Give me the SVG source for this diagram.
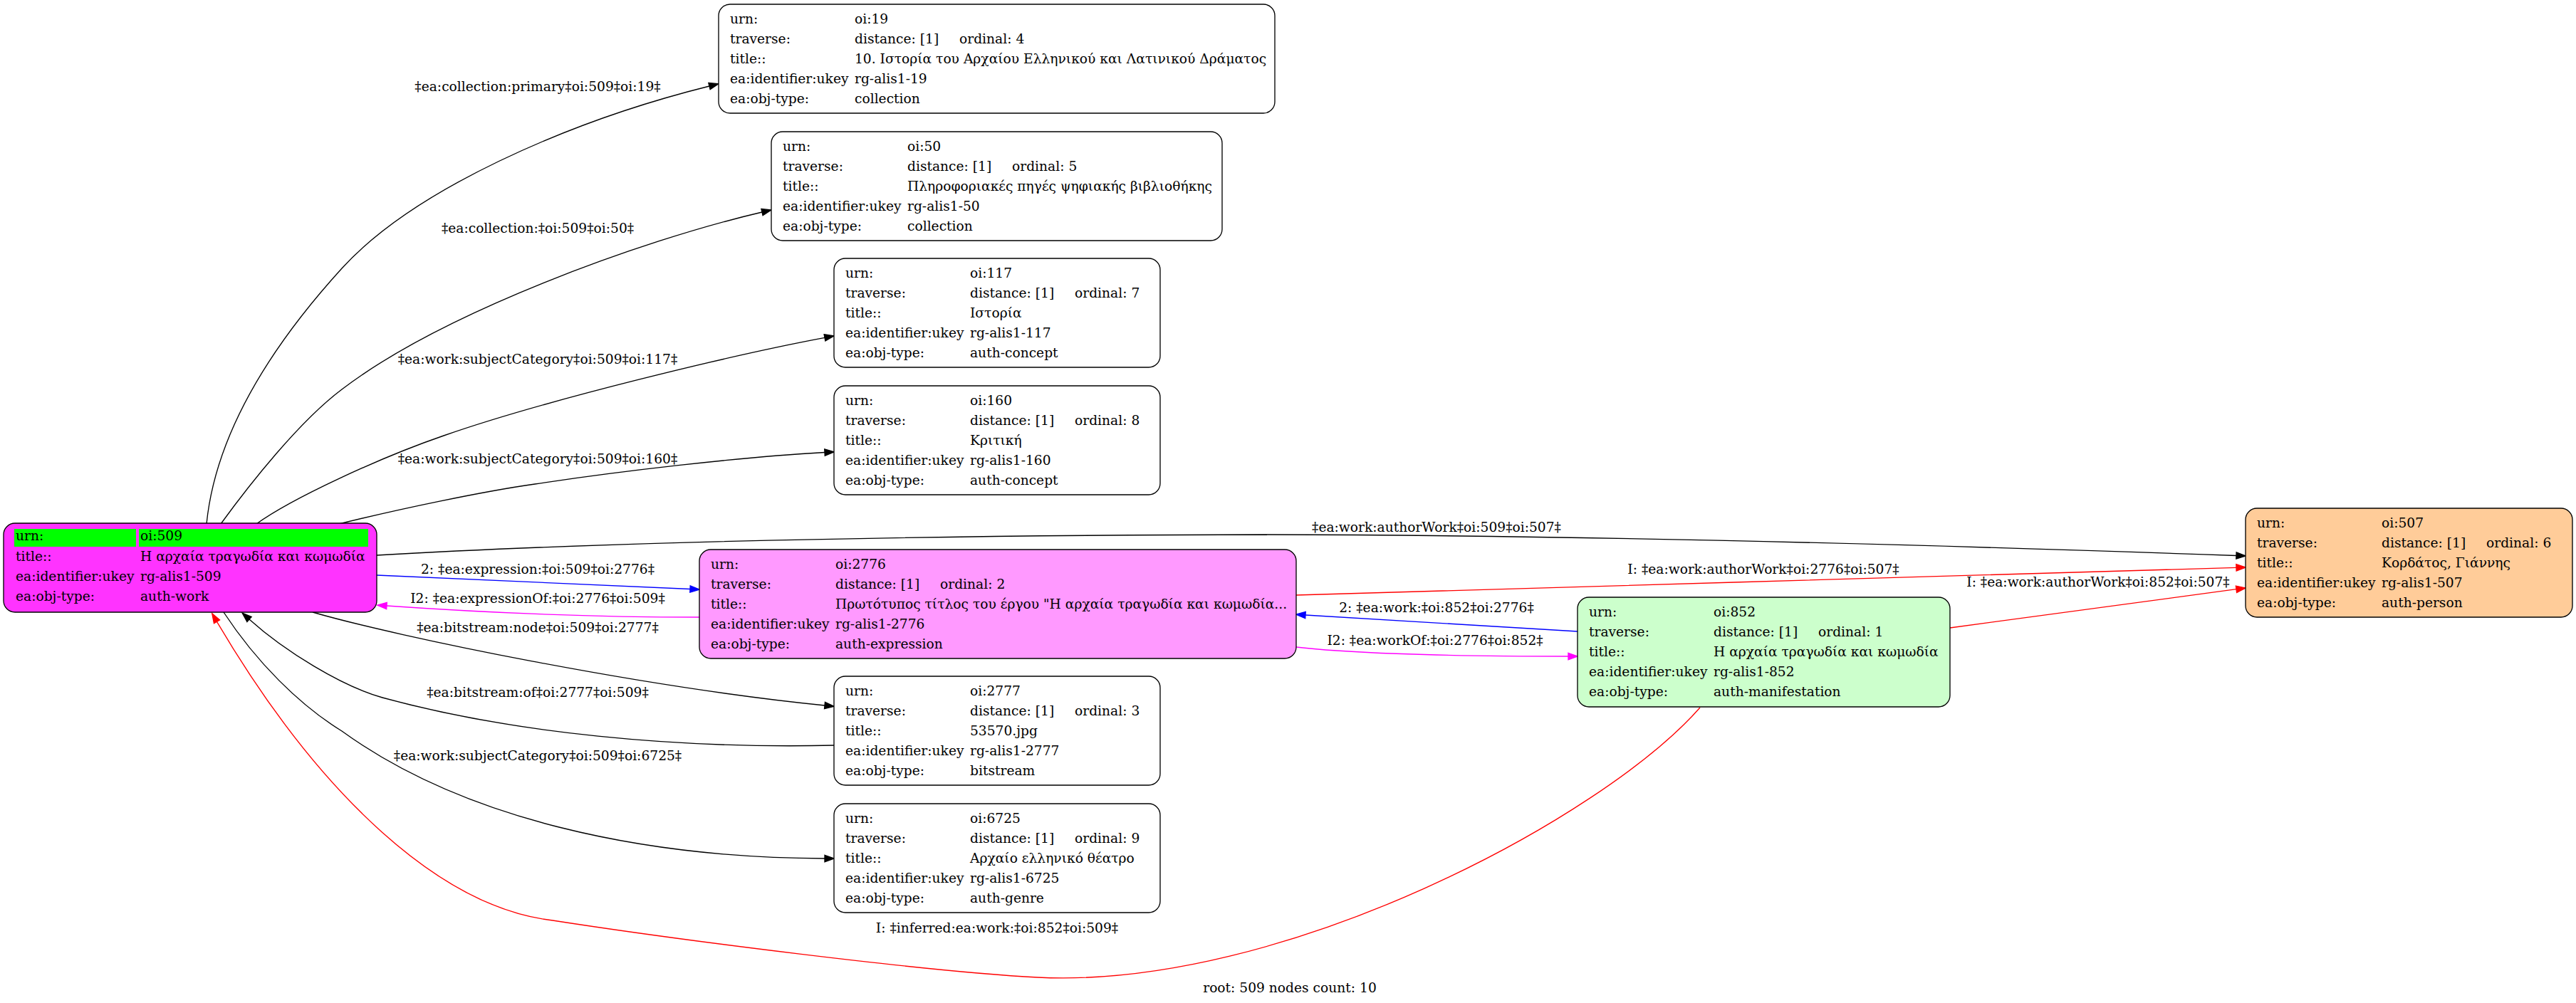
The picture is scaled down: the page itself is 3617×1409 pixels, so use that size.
<svg xmlns="http://www.w3.org/2000/svg" width="3617" height="1409" viewBox="0 0 3617 1409">
<style>
text{font-family:"DejaVu Serif","Liberation Serif",serif;font-size:18.67px;fill:#000}
.lbl{text-anchor:middle}
.box{stroke:#000;stroke-width:1.33}
.e{fill:none;stroke-width:1.33}
.k{stroke:#000}.b{stroke:#0000ff}.r{stroke:#ff0000}.m{stroke:#ff00ff}
</style>
<defs>
<marker id="ak" markerUnits="userSpaceOnUse" markerWidth="14" markerHeight="10" viewBox="0 0 14 10" refX="0" refY="4.7" orient="auto" overflow="visible"><path d="M0,0 L13.3,4.7 L0,9.4 z" fill="#000" stroke="#000" stroke-width="1.33"/></marker>
<marker id="ab" markerUnits="userSpaceOnUse" markerWidth="14" markerHeight="10" viewBox="0 0 14 10" refX="0" refY="4.7" orient="auto" overflow="visible"><path d="M0,0 L13.3,4.7 L0,9.4 z" fill="#0000ff" stroke="#0000ff" stroke-width="1.33"/></marker>
<marker id="ar" markerUnits="userSpaceOnUse" markerWidth="14" markerHeight="10" viewBox="0 0 14 10" refX="0" refY="4.7" orient="auto" overflow="visible"><path d="M0,0 L13.3,4.7 L0,9.4 z" fill="#ff0000" stroke="#ff0000" stroke-width="1.33"/></marker>
<marker id="am" markerUnits="userSpaceOnUse" markerWidth="14" markerHeight="10" viewBox="0 0 14 10" refX="0" refY="4.7" orient="auto" overflow="visible"><path d="M0,0 L13.3,4.7 L0,9.4 z" fill="#ff00ff" stroke="#ff00ff" stroke-width="1.33"/></marker>
</defs>
<rect x="0" y="0" width="3617" height="1409" fill="#fff"/>

<g id="edges">
<path class="e k" marker-end="url(#ak)" d="M290,736 C305,586 410,454 480,377 C580,267 796,171 996,121"/>
<path class="e k" marker-end="url(#ak)" d="M310,736 C350,681 420,592 480,547 C620,440 899,338 1070,298"/>
<path class="e k" marker-end="url(#ak)" d="M360,736 C410,700 533,643 623,612 C766,562 1027,499 1158,474.4"/>
<path class="e k" marker-end="url(#ak)" d="M468,738 C560,715 680,690 751,680 C870,662 1040,642 1158,635.5"/>
<path class="e k" marker-end="url(#ak)" d="M529,780 C700,770 1100,752 1780,751 C2300,752 2900,772 3140,780.5"/>
<path class="e b" marker-end="url(#ab)" d="M529,808 C700,815 850,822 969,827.5"/>
<path class="e m" marker-end="url(#am)" d="M982,867 C850,867 700,862 543,851"/>
<path class="e k" marker-end="url(#ak)" d="M439,860 C560,895 900,965 1158,991"/>
<path class="e k" marker-end="url(#ak)" d="M1171,1047 C950,1052 720,1030 537,980 C480,964 400,915 350,870"/>
<path class="e k" marker-end="url(#ak)" d="M314,860 C360,930 420,990 480,1027 C650,1150 900,1205 1158,1206"/>
<path class="e r" marker-end="url(#ar)" d="M1820,836 C2200,826 2800,806 3140,797.4"/>
<path class="e r" marker-end="url(#ar)" d="M2738,882 L3140,827.7"/>
<path class="e b" marker-end="url(#ab)" d="M2215,887 L1833,864"/>
<path class="e m" marker-end="url(#am)" d="M1820,909 C1900,918 2050,922 2202,922"/>
<path class="e r" marker-end="url(#ar)" d="M2387,994 C2250,1150 1800,1390 1457,1373 C1300,1365 950,1320 776,1293 C620,1275 450,1120 304.5,873.3"/>
<text class="lbl" x="755" y="128">‡ea:collection:primary‡oi:509‡oi:19‡</text>
<text class="lbl" x="755" y="327">‡ea:collection:‡oi:509‡oi:50‡</text>
<text class="lbl" x="755" y="511">‡ea:work:subjectCategory‡oi:509‡oi:117‡</text>
<text class="lbl" x="755" y="651">‡ea:work:subjectCategory‡oi:509‡oi:160‡</text>
<text class="lbl" x="2017" y="747">‡ea:work:authorWork‡oi:509‡oi:507‡</text>
<text class="lbl" x="755" y="806">2: ‡ea:expression:‡oi:509‡oi:2776‡</text>
<text class="lbl" x="755" y="847">I2: ‡ea:expressionOf:‡oi:2776‡oi:509‡</text>
<text class="lbl" x="755" y="888">‡ea:bitstream:node‡oi:509‡oi:2777‡</text>
<text class="lbl" x="755" y="979">‡ea:bitstream:of‡oi:2777‡oi:509‡</text>
<text class="lbl" x="755" y="1068">‡ea:work:subjectCategory‡oi:509‡oi:6725‡</text>
<text class="lbl" x="2476" y="806">I: ‡ea:work:authorWork‡oi:2776‡oi:507‡</text>
<text class="lbl" x="2946" y="824">I: ‡ea:work:authorWork‡oi:852‡oi:507‡</text>
<text class="lbl" x="2017" y="860">2: ‡ea:work:‡oi:852‡oi:2776‡</text>
<text class="lbl" x="2015" y="906">I2: ‡ea:workOf:‡oi:2776‡oi:852‡</text>
<text class="lbl" x="1400" y="1310">I: ‡inferred:ea:work:‡oi:852‡oi:509‡</text>
</g>

<g id="n509">
<rect class="box" x="5" y="735" width="524" height="125" rx="16" fill="#ff33ff"/>
<rect x="20" y="743" width="171" height="25" fill="#00ff00"/>
<rect x="195" y="743" width="322" height="25" fill="#00ff00"/>
<text x="22" y="759">urn:</text><text x="197" y="759">oi:509</text>
<text x="22" y="788">title::</text><text x="197" y="788">Η αρχαία τραγωδία και κωμωδία</text>
<text x="22" y="816">ea:identifier:ukey</text><text x="197" y="816">rg-alis1-509</text>
<text x="22" y="844">ea:obj-type:</text><text x="197" y="844">auth-work</text>
</g>

<g id="n19">
<rect class="box" x="1009" y="6" width="781" height="153" rx="16" fill="#fff"/>
<text x="1025" y="33">urn:</text><text x="1200" y="33">oi:19</text>
<text x="1025" y="61">traverse:</text><text x="1200" y="61">distance: [1]</text><text x="1347" y="61">ordinal: 4</text>
<text x="1025" y="89">title::</text><text x="1200" y="89">10. Ιστορία του Αρχαίου Ελληνικού και Λατινικού Δράματος</text>
<text x="1025" y="117">ea:identifier:ukey</text><text x="1200" y="117">rg-alis1-19</text>
<text x="1025" y="145">ea:obj-type:</text><text x="1200" y="145">collection</text>
</g>

<g id="n50">
<rect class="box" x="1083" y="185" width="633" height="153" rx="16" fill="#fff"/>
<text x="1099" y="212">urn:</text><text x="1274" y="212">oi:50</text>
<text x="1099" y="240">traverse:</text><text x="1274" y="240">distance: [1]</text><text x="1421" y="240">ordinal: 5</text>
<text x="1099" y="268">title::</text><text x="1274" y="268">Πληροφοριακές πηγές ψηφιακής βιβλιοθήκης</text>
<text x="1099" y="296">ea:identifier:ukey</text><text x="1274" y="296">rg-alis1-50</text>
<text x="1099" y="324">ea:obj-type:</text><text x="1274" y="324">collection</text>
</g>

<g id="n117">
<rect class="box" x="1171" y="363" width="458" height="153" rx="16" fill="#fff"/>
<text x="1187" y="390">urn:</text><text x="1362" y="390">oi:117</text>
<text x="1187" y="418">traverse:</text><text x="1362" y="418">distance: [1]</text><text x="1509" y="418">ordinal: 7</text>
<text x="1187" y="446">title::</text><text x="1362" y="446">Ιστορία</text>
<text x="1187" y="474">ea:identifier:ukey</text><text x="1362" y="474">rg-alis1-117</text>
<text x="1187" y="502">ea:obj-type:</text><text x="1362" y="502">auth-concept</text>
</g>

<g id="n160">
<rect class="box" x="1171" y="542" width="458" height="153" rx="16" fill="#fff"/>
<text x="1187" y="569">urn:</text><text x="1362" y="569">oi:160</text>
<text x="1187" y="597">traverse:</text><text x="1362" y="597">distance: [1]</text><text x="1509" y="597">ordinal: 8</text>
<text x="1187" y="625">title::</text><text x="1362" y="625">Κριτική</text>
<text x="1187" y="653">ea:identifier:ukey</text><text x="1362" y="653">rg-alis1-160</text>
<text x="1187" y="681">ea:obj-type:</text><text x="1362" y="681">auth-concept</text>
</g>

<g id="n2777">
<rect class="box" x="1171" y="950" width="458" height="153" rx="16" fill="#fff"/>
<text x="1187" y="977">urn:</text><text x="1362" y="977">oi:2777</text>
<text x="1187" y="1005">traverse:</text><text x="1362" y="1005">distance: [1]</text><text x="1509" y="1005">ordinal: 3</text>
<text x="1187" y="1033">title::</text><text x="1362" y="1033">53570.jpg</text>
<text x="1187" y="1061">ea:identifier:ukey</text><text x="1362" y="1061">rg-alis1-2777</text>
<text x="1187" y="1089">ea:obj-type:</text><text x="1362" y="1089">bitstream</text>
</g>

<g id="n6725">
<rect class="box" x="1171" y="1129" width="458" height="153" rx="16" fill="#fff"/>
<text x="1187" y="1156">urn:</text><text x="1362" y="1156">oi:6725</text>
<text x="1187" y="1184">traverse:</text><text x="1362" y="1184">distance: [1]</text><text x="1509" y="1184">ordinal: 9</text>
<text x="1187" y="1212">title::</text><text x="1362" y="1212">Αρχαίο ελληνικό θέατρο</text>
<text x="1187" y="1240">ea:identifier:ukey</text><text x="1362" y="1240">rg-alis1-6725</text>
<text x="1187" y="1268">ea:obj-type:</text><text x="1362" y="1268">auth-genre</text>
</g>

<g id="n2776">
<rect class="box" x="982" y="772" width="838" height="153" rx="16" fill="#ff99ff"/>
<text x="998" y="799">urn:</text><text x="1173" y="799">oi:2776</text>
<text x="998" y="827">traverse:</text><text x="1173" y="827">distance: [1]</text><text x="1320" y="827">ordinal: 2</text>
<text x="998" y="855">title::</text><text x="1173" y="855">Πρωτότυπος τίτλος του έργου "Η αρχαία τραγωδία και κωμωδία...</text>
<text x="998" y="883">ea:identifier:ukey</text><text x="1173" y="883">rg-alis1-2776</text>
<text x="998" y="911">ea:obj-type:</text><text x="1173" y="911">auth-expression</text>
</g>

<g id="n852">
<rect class="box" x="2215" y="839" width="523" height="154" rx="16" fill="#ccffcc"/>
<text x="2231" y="866">urn:</text><text x="2406" y="866">oi:852</text>
<text x="2231" y="894">traverse:</text><text x="2406" y="894">distance: [1]</text><text x="2553" y="894">ordinal: 1</text>
<text x="2231" y="922">title::</text><text x="2406" y="922">Η αρχαία τραγωδία και κωμωδία</text>
<text x="2231" y="950">ea:identifier:ukey</text><text x="2406" y="950">rg-alis1-852</text>
<text x="2231" y="978">ea:obj-type:</text><text x="2406" y="978">auth-manifestation</text>
</g>

<g id="n507">
<rect class="box" x="3153" y="714" width="459" height="153" rx="16" fill="#ffcc99"/>
<text x="3169" y="741">urn:</text><text x="3344" y="741">oi:507</text>
<text x="3169" y="769">traverse:</text><text x="3344" y="769">distance: [1]</text><text x="3491" y="769">ordinal: 6</text>
<text x="3169" y="797">title::</text><text x="3344" y="797">Κορδάτος, Γιάννης</text>
<text x="3169" y="825">ea:identifier:ukey</text><text x="3344" y="825">rg-alis1-507</text>
<text x="3169" y="853">ea:obj-type:</text><text x="3344" y="853">auth-person</text>
</g>

<text class="lbl" x="1811" y="1394">root: 509 nodes count: 10</text>
</svg>
